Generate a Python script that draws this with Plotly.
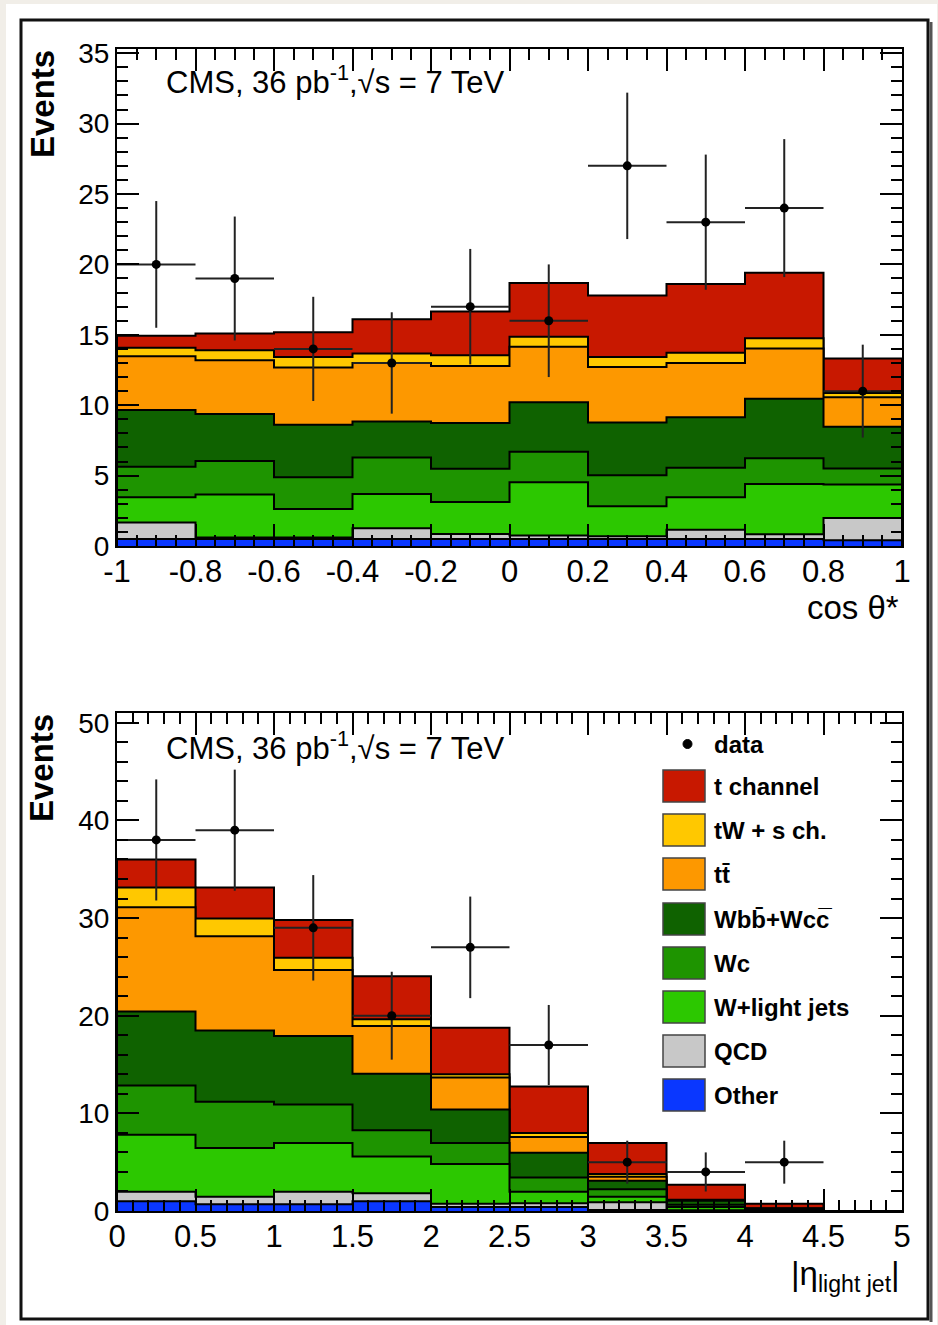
import numpy as np
import plotly.graph_objects as go

# ---------------- data: top panel (cos theta*) ----------------
edges_top = [-1.0, -0.8, -0.6, -0.4, -0.2, 0.0, 0.2, 0.4, 0.6, 0.8, 1.0]
centers_top = [-0.9, -0.7, -0.5, -0.3, -0.1, 0.1, 0.3, 0.5, 0.7, 0.9]
top_other = [0.5, 0.5, 0.5, 0.5, 0.5, 0.5, 0.5, 0.5, 0.5, 0.4]
top_qcd = [1.17, 0.1, 0.1, 0.76, 0.36, 0.25, 0.2, 0.65, 0.33, 1.58]
top_wlight = [1.79, 3.05, 2.02, 2.44, 2.27, 3.78, 2.12, 2.31, 3.58, 2.39]
top_wc = [2.17, 2.39, 2.27, 2.58, 2.36, 2.17, 2.21, 2.10, 1.82, 1.14]
top_wbb = [4.03, 3.34, 3.72, 2.57, 3.24, 3.51, 3.75, 3.58, 4.22, 2.96]
top_tt = [3.82, 3.82, 4.06, 4.15, 4.06, 3.94, 3.94, 3.86, 3.58, 2.10]
top_tw = [0.60, 0.71, 0.76, 0.67, 0.76, 0.72, 0.71, 0.72, 0.72, 0.29]
top_tch = [0.86, 1.19, 1.75, 2.43, 3.11, 3.81, 4.37, 4.89, 4.65, 2.45]
top_data = [20, 19, 14, 13, 17, 16, 27, 23, 24, 11]
top_err = [4.5, 4.4, 3.7, 3.6, 4.1, 4.0, 5.2, 4.8, 4.9, 3.3]
top_xerr = [0.1] * 10

# ---------------- data: bottom panel (|eta light jet|) ----------------
edges_bot = [0.0, 0.5, 1.0, 1.5, 2.0, 2.5, 3.0, 3.5, 4.0, 4.5, 5.0]
bot_other = [1.0, 0.7, 0.7, 1.0, 0.4, 0.4, 0.1, 0.05, 0.0, 0.0]
bot_qcd = [0.96, 0.75, 1.26, 0.82, 0.35, 0.4, 0.8, 0.0, 0.0, 0.0]
bot_wlight = [5.86, 4.99, 5.0, 3.76, 4.07, 1.16, 0.55, 0.35, 0.1, 0.0]
bot_wc = [5.02, 4.75, 3.95, 2.68, 2.14, 1.48, 0.79, 0.25, 0.05, 0.0]
bot_wbb = [7.58, 7.3, 7.0, 5.79, 3.44, 2.52, 0.86, 0.4, 0.1, 0.0]
bot_tt = [10.68, 9.64, 6.78, 4.89, 3.27, 1.62, 0.41, 0.05, 0.0, 0.0]
bot_tw = [2.03, 1.83, 1.24, 0.69, 0.34, 0.41, 0.28, 0.05, 0.0, 0.0]
bot_tch = [2.86, 3.17, 3.86, 4.41, 4.76, 4.75, 3.17, 1.54, 0.5, 0.0]
centers_bot = [0.25, 0.75, 1.25, 1.75, 2.25, 2.75, 3.25, 3.75, 4.25]
bot_data = [38, 39, 29, 20, 27, 17, 5, 4, 5]
bot_err = [6.2, 6.2, 5.4, 4.5, 5.2, 4.1, 2.2, 2.0, 2.2]
bot_xerr = [0.25] * 9

# ---------------- legend / styles ----------------
labels = ["Other", "QCD", "W+light jets", "Wc", "Wbb\u0304+Wcc\u0305", "tt\u0304", "tW + s ch.", "t channel"]
colors = ["#0a37ff", "#c8c8c8", "#2cc800", "#1e9400", "#0f6200", "#fd9800", "#ffc800", "#c81800"]

top_xticks = [-1, -0.8, -0.6, -0.4, -0.2, 0, 0.2, 0.4, 0.6, 0.8, 1]
top_xticktext = ["-1", "-0.8", "-0.6", "-0.4", "-0.2", "0", "0.2", "0.4", "0.6", "0.8", "1"]
top_yticks = [0, 5, 10, 15, 20, 25, 30, 35]
bot_xticks = [0, 0.5, 1, 1.5, 2, 2.5, 3, 3.5, 4, 4.5, 5]
bot_xticktext = ["0", "0.5", "1", "1.5", "2", "2.5", "3", "3.5", "4", "4.5", "5"]
bot_yticks = [0, 10, 20, 30, 40, 50]

FONT = "Liberation Sans, Arial, Helvetica, sans-serif"
W, H = 938, 1325

fig = go.Figure()


def add_stack(edges, comps, xa, ya):
    cum = np.cumsum(np.array(comps, dtype=float), axis=0)
    for i in reversed(range(len(comps))):
        v = list(cum[i])
        x = [edges[0]] + list(edges) + [edges[-1]]
        y = [0.0] + v + [v[-1], 0.0]
        fig.add_trace(go.Scatter(
            x=x, y=y, mode="lines", line=dict(shape="hv", color="black", width=2),
            fill="tozeroy", fillcolor=colors[i], xaxis=xa, yaxis=ya,
            showlegend=False, hoverinfo="skip"))


def add_data(xc, yv, ye, xe, xa, ya):
    fig.add_trace(go.Scatter(
        x=xc, y=yv, mode="markers", xaxis=xa, yaxis=ya, showlegend=False,
        marker=dict(color="black", size=9),
        error_y=dict(type="data", array=ye, color="#222222", thickness=2, width=0),
        error_x=dict(type="data", array=xe, color="#222222", thickness=2, width=0)))


add_stack(edges_top, [top_other, top_qcd, top_wlight, top_wc, top_wbb, top_tt, top_tw, top_tch], "x", "y")
add_data(centers_top, top_data, top_err, top_xerr, "x", "y")
add_stack(edges_bot, [bot_other, bot_qcd, bot_wlight, bot_wc, bot_wbb, bot_tt, bot_tw, bot_tch], "x2", "y2")
add_data(centers_bot, bot_data, bot_err, bot_xerr, "x2", "y2")


def px(x):
    return x / W


def py(y):
    return 1 - y / H


xdom = [px(117), px(902)]
axis_common = dict(showline=True, linecolor="black", linewidth=2, mirror="ticks",
                   ticks="inside", ticklen=22, tickwidth=1.5, tickcolor="black",
                   showgrid=False, zeroline=False, automargin=False)
xfont = dict(family=FONT, size=31, color="black")
yfont = dict(family=FONT, size=28, color="black")

fig.update_layout(
    template="none",
    width=W, height=H, autosize=False,
    margin=dict(l=0, r=0, t=0, b=0, pad=0),
    paper_bgcolor="#f1eee8", plot_bgcolor="white",
    showlegend=False,
    xaxis=dict(domain=xdom, anchor="y", range=[-1, 1], tickvals=top_xticks, ticktext=top_xticktext,
               ticklabelstandoff=-3, tickfont=xfont,
               minor=dict(ticks="inside", ticklen=11, dtick=0.05, tick0=-1, tickcolor="black", tickwidth=1.5),
               **axis_common),
    yaxis=dict(domain=[py(546), py(49)], anchor="x", range=[0, 35.3], tickvals=top_yticks, tickfont=yfont,
               minor=dict(ticks="inside", ticklen=11, dtick=1, tick0=0, tickcolor="black", tickwidth=1.5),
               **axis_common),
    xaxis2=dict(domain=xdom, anchor="y2", range=[0, 5], tickvals=bot_xticks, ticktext=bot_xticktext,
                ticklabelstandoff=-3, tickfont=xfont,
                minor=dict(ticks="inside", ticklen=11, dtick=0.1, tick0=0, tickcolor="black", tickwidth=1.5),
                **axis_common),
    yaxis2=dict(domain=[py(1211), py(713)], anchor="x2", range=[0, 51], tickvals=bot_yticks, tickfont=yfont,
                minor=dict(ticks="inside", ticklen=11, dtick=2, tick0=0, tickcolor="black", tickwidth=1.5),
                **axis_common),
)

shapes = [
    dict(type="rect", xref="paper", yref="paper", x0=px(6), x1=px(937), y0=py(1325), y1=py(4),
         fillcolor="white", line=dict(width=0), layer="below"),
    dict(type="rect", xref="paper", yref="paper", x0=px(21), x1=px(928), y0=py(1319), y1=py(20),
         fillcolor="rgba(0,0,0,0)", line=dict(color="#111111", width=3), layer="above"),
    dict(type="line", xref="paper", yref="paper", x0=px(931), x1=px(931), y0=py(1322), y1=py(22),
         line=dict(color="#555555", width=3), layer="above"),
]

annotations = []
# CMS labels
for yc in (80, 746):
    annotations.append(dict(xref="paper", yref="paper", x=px(164), y=py(yc), xanchor="left", yanchor="middle",
                            showarrow=False, text="CMS, 36 pb<sup>-1</sup>,\u221as = 7 TeV",
                            font=dict(family=FONT, size=31, color="black")))
# Events titles
for yt in (48, 712):
    annotations.append(dict(xref="paper", yref="paper", x=px(42), y=py(yt), xanchor="center", yanchor="top",
                            showarrow=False, text="<b>Events</b>", textangle=-90,
                            font=dict(family=FONT, size=33, color="black")))
# x titles
annotations.append(dict(xref="paper", yref="paper", x=px(901), y=py(608), xanchor="right", yanchor="middle",
                        showarrow=False, text="cos \u03b8*", font=dict(family=FONT, size=33, color="black")))
annotations.append(dict(xref="paper", yref="paper", x=px(902), y=py(1276), xanchor="right", yanchor="middle",
                        showarrow=False, text="|\u03b7<sub>light jet</sub>|",
                        font=dict(family=FONT, size=33, color="black")))

# legend (bottom panel)
leg_x0, leg_x1 = 663, 705
annotations.append(dict(xref="paper", yref="paper", x=px(712), y=py(744), xanchor="left", yanchor="middle",
                        showarrow=False, text="<b>data</b>", font=dict(family=FONT, size=24, color="black")))
shapes.append(dict(type="circle", xref="paper", yref="paper", x0=px(683), x1=px(692), y0=py(748.5), y1=py(739.5),
                   fillcolor="black", line=dict(color="black", width=1)))
row_y = [786, 830, 874, 919, 963, 1007, 1051, 1095]
order = [7, 6, 5, 4, 3, 2, 1, 0]
for ry, idx in zip(row_y, order):
    shapes.append(dict(type="rect", xref="paper", yref="paper", x0=px(leg_x0), x1=px(leg_x1),
                       y0=py(ry + 16), y1=py(ry - 16), fillcolor=colors[idx],
                       line=dict(color="#444444", width=1.5)))
    annotations.append(dict(xref="paper", yref="paper", x=px(712), y=py(ry), xanchor="left", yanchor="middle",
                            showarrow=False, text="<b>" + labels[idx] + "</b>",
                            font=dict(family=FONT, size=24, color="black")))

fig.update_layout(shapes=shapes, annotations=annotations)
fig.write_html("out.html", config={"displayModeBar": False},
               post_script="document.body.style.margin='0px';document.body.style.overflow='hidden';")
